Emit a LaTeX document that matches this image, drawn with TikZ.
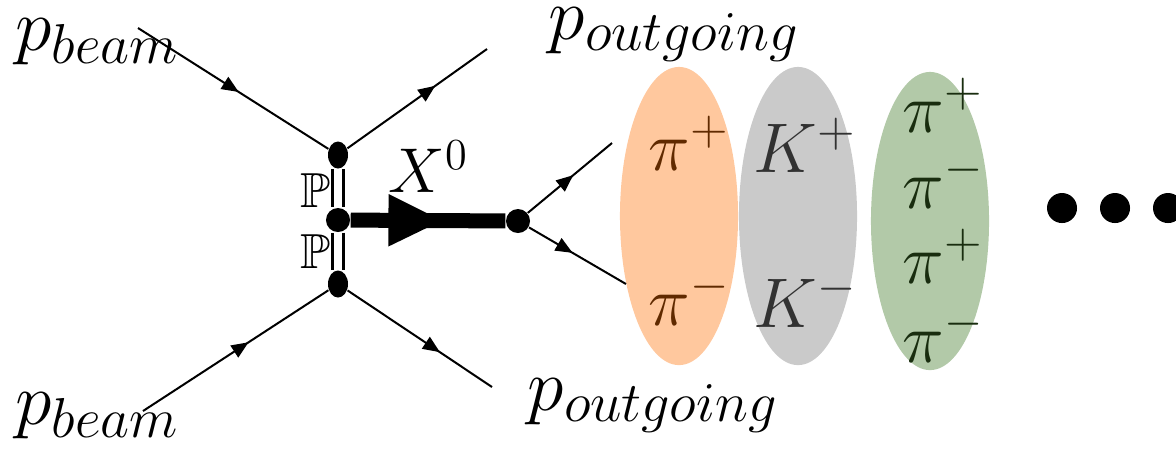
\RequirePackage{fix-cm}
\documentclass[tikz,border=0pt]{standalone}
\usepackage{amssymb}
\usepackage{xcolor}
\usetikzlibrary{arrows.meta,calc,positioning,shapes.geometric,decorations.markings}

\DeclareMathSizes{21}{21}{16}{12}

\definecolor{pionorange}{RGB}{255,200,158}
\definecolor{piontext}{RGB}{96,42,0}
\definecolor{kaongray}{RGB}{202,202,202}
\definecolor{kaontext}{RGB}{50,50,50}
\definecolor{multigreen}{RGB}{178,201,168}
\definecolor{multitext}{RGB}{25,45,15}

\begin{document}
\begin{tikzpicture}[x=0.01cm,y=-0.01cm,
  leg/.style={line width=0.02cm},
  midarrow/.style={postaction={decorate},decoration={markings,
    mark=at position #1 with {\arrow{Triangle[length=0.17cm,width=0.14cm]}}}},
  blob/.style={ellipse,fill=black,inner sep=0pt,minimum width=0.2cm,minimum height=0.27cm},
  vtx/.style={circle,fill=black,inner sep=0pt,minimum size=0.24cm},
  lbl/.style={anchor=base west,inner sep=0pt,font=\fontsize{20}{24}\selectfont},
  plbl/.style={lbl,font=\fontsize{21}{25}\selectfont},
  cloud/.style={ellipse,inner sep=0pt,minimum width=1.18cm,minimum height=2.98cm}]
\useasboundingbox (0,0) rectangle (1176,450);

% final state groups
\node[cloud,fill=pionorange] (cpi) at (679,216) {};
\node[cloud,fill=kaongray] (ckaon) at (798,216) {};
\node[cloud,fill=multigreen] (cmulti) at (930,221) {};

% vertices
\node[blob] (vup) at (338,155) {};
\node[vtx] (vmid) at (338,220) {};
\node[blob] (vlow) at (338,284) {};
\node[vtx] (vdec) at (518,221) {};

% proton legs
\coordinate (beamA) at (138,28);
\coordinate (outA) at (487,49);
\coordinate (beamB) at (143,411);
\coordinate (outB) at (492,387);
\draw[leg,midarrow=0.53] (beamA) -- (vup);
\draw[leg,midarrow=0.63] (vup) -- (outA);
\draw[leg,midarrow=0.57] (beamB) -- (vlow);
\draw[leg,midarrow=0.64] (vlow) -- (outB);

% pomerons
\draw[double,line width=0.035cm,double distance=0.075cm] (vup) -- (vmid);
\draw[double,line width=0.035cm,double distance=0.075cm] (vmid) -- (vlow);
\node[lbl,font=\fontsize{14}{16}\selectfont] (pomA) at (300,207) {$\mathbb{P}$};
\node[lbl,font=\fontsize{14}{16}\selectfont] (pomB) at (300,268) {$\mathbb{P}$};

% central state
\draw[line width=0.15cm,postaction={decorate},decoration={markings,
  mark=at position 0.6 with {\arrow{Triangle[length=0.55cm,width=0.48cm]}}}] (vmid) -- (vdec);
\node[lbl,font=\fontsize{18}{22}\selectfont] (xlab) at (388,192) {$X^0$};

% decay
\coordinate (decA) at (612,143);
\coordinate (decB) at (626,284);
\draw[leg,midarrow=0.54] (vdec) -- (decA);
\draw[leg,midarrow=0.45] (vdec) -- (decB);

% labels
\node[plbl] (pbeamA) at (15,50) {$p_{beam}$};
\node[plbl] (poutA) at (548,39) {$p_{outgoing}$};
\node[plbl] (pbeamB) at (15,424) {$p_{beam}$};
\node[plbl] (poutB) at (527,410) {$p_{outgoing}$};

\node[lbl,text=piontext] (piplus) at (648,170) {$\pi^+$};
\node[lbl,text=piontext] (piminus) at (648,325) {$\pi^-$};
\node[lbl,text=kaontext] (kplus) at (753,172) {$K^+$};
\node[lbl,text=kaontext] (kminus) at (753,327) {$K^-$};
\node[lbl,text=multitext] (mpiA) at (902,132) {$\pi^+$};
\node[lbl,text=multitext] (mpiB) at (902,208) {$\pi^-$};
\node[lbl,text=multitext] (mpiC) at (902,283) {$\pi^+$};
\node[lbl,text=multitext] (mpiD) at (902,362) {$\pi^-$};

% more states
\foreach \x/\n in {1062/a,1115/b,1168/c}
  \node[vtx,minimum size=0.3cm] (dots\n) at (\x,208) {};
\end{tikzpicture}
\end{document}
